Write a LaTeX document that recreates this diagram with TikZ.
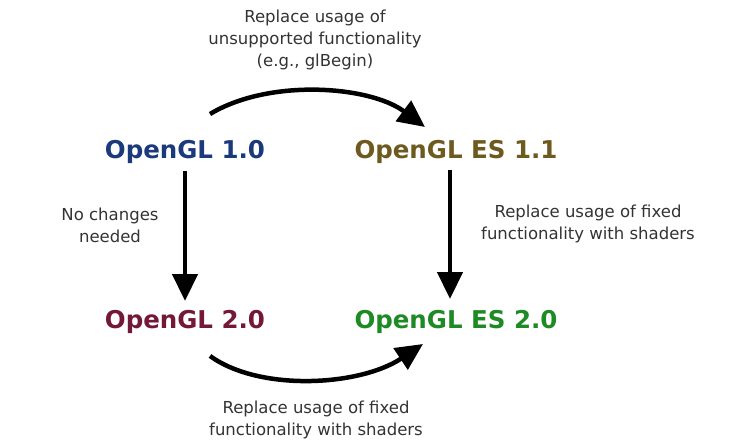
\documentclass[tikz,border=0pt]{standalone}
\usepackage{fontspec}
\setmainfont{DejaVu Sans}
\usetikzlibrary{arrows.meta}
\definecolor{cblue}{HTML}{1B3A7C}
\definecolor{colive}{HTML}{6E5A1E}
\definecolor{cmaroon}{HTML}{74183A}
\definecolor{cgreen}{HTML}{1E8A24}
\definecolor{ctext}{HTML}{333333}
\tikzset{
  title/.style={inner sep=0pt, font=\fontsize{24.5}{28}\selectfont\bfseries},
  lbl/.style={inner sep=0pt, align=center, text=ctext, font=\fontsize{16.5}{22}\selectfont},
  arr/.style={line width=4.5pt, -{Triangle[length=27pt,width=25pt]}},
}
\begin{document}
\begin{tikzpicture}[x=1pt,y=-1pt]
\useasboundingbox (0,0) rectangle (734,444);
\node[title, text=cblue]   (n1) at (185,152) {OpenGL 1.0};
\node[title, text=colive]  (n2) at (456,152) {OpenGL ES 1.1};
\node[title, text=cmaroon] (n3) at (185,322) {OpenGL 2.0};
\node[title, text=cgreen]  (n4) at (456,322) {OpenGL ES 2.0};

\node[lbl] (l1) at (315,40) {Replace usage of\\unsupported functionality\\(e.g., glBegin)};
\node[lbl] (l2) at (110,225) {No changes\\needed};
\node[lbl] (l3) at (588,224) {Replace usage of fixed\\functionality with shaders};
\node[lbl] (l4) at (316,420) {Replace usage of fixed\\functionality with shaders};

\coordinate (t1) at (210,114);
\coordinate (t2) at (425,127);
\coordinate (b1) at (210,356);
\coordinate (b2) at (423,344);
\coordinate (v1a) at (185,171);
\coordinate (v1b) at (185,301);
\coordinate (v2a) at (450,170);
\coordinate (v2b) at (450,299);

\draw[arr] (t1) .. controls (270,78) and (370,86) .. (t2);
\draw[arr] (b1) .. controls (260,392) and (360,386) .. (b2);
\draw[arr] (v1a) -- (v1b);
\draw[arr] (v2a) -- (v2b);
\end{tikzpicture}
\end{document}
